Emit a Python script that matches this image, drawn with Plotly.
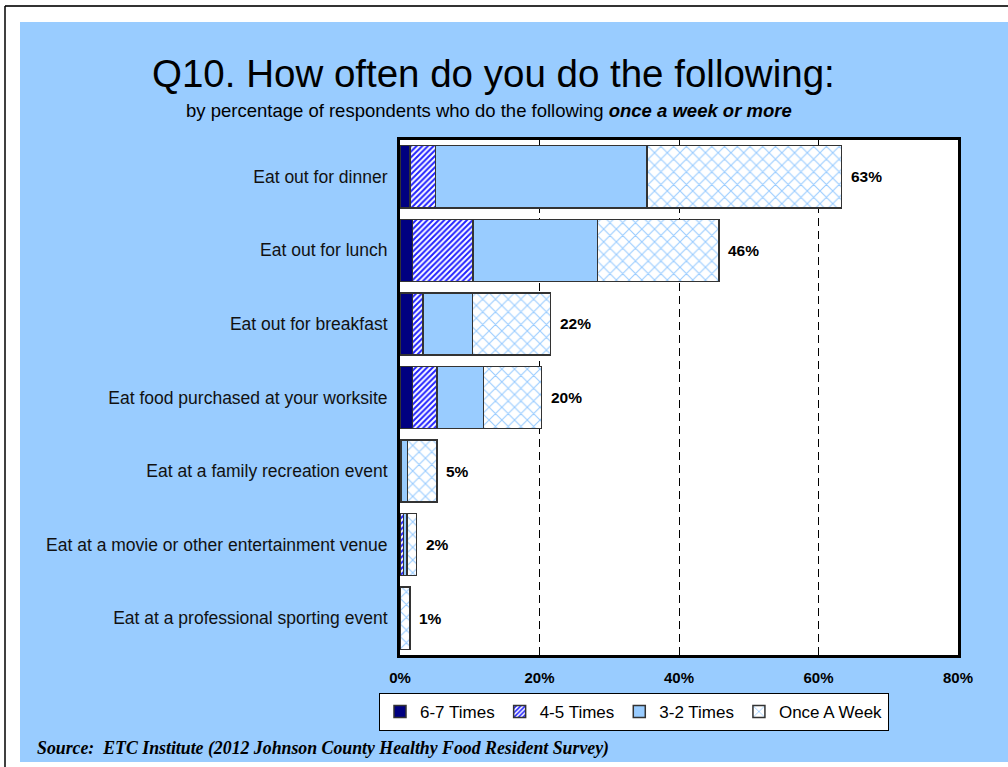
import plotly.graph_objects as go

# Survey items (top to bottom) and the share of respondents per frequency band (%)
categories = [
    "Eat out for dinner",
    "Eat out for lunch",
    "Eat out for breakfast",
    "Eat food purchased at your worksite",
    "Eat at a family recreation event",
    "Eat at a movie or other entertainment venue",
    "Eat at a professional sporting event",
]
times_6_7 = [1.4, 1.8, 1.8, 1.8, 0.1, 0.1, 0.0]
times_4_5 = [3.7, 8.7, 1.5, 3.5, 0.1, 0.4, 0.0]
times_3_2 = [30.3, 17.8, 7.1, 6.7, 0.9, 0.5, 0.1]
once_week = [27.9, 17.4, 11.2, 8.3, 4.2, 1.4, 1.3]

series_names = ["6-7 Times", "4-5 Times", "3-2 Times", "Once A Week"]
x_ticks = [0, 20, 40, 60, 80]
x_tick_labels = ["0%", "20%", "40%", "60%", "80%"]

W, H = 1008, 767
ML, MR, MT, MB = 400, 50, 140, 112
PW, PH = W - ML - MR, H - MT - MB


def px_x(px):
    return (px - ML) / PW


def px_y(py):
    return (H - MB - py) / PH


BLUE = "#99CCFF"
OUTLINE = dict(color="#333333", width=1.5)

fig = go.Figure()
fig.add_trace(go.Bar(
    y=categories, x=times_6_7, name=series_names[0], orientation="h",
    marker=dict(color="#000080", line=OUTLINE),
))
fig.add_trace(go.Bar(
    y=categories, x=times_4_5, name=series_names[1], orientation="h",
    marker=dict(color="white", line=OUTLINE,
                pattern=dict(shape="/", fgcolor="#2222FF", bgcolor="white",
                             size=4, solidity=0.5, fillmode="replace")),
))
fig.add_trace(go.Bar(
    y=categories, x=times_3_2, name=series_names[2], orientation="h",
    marker=dict(color=BLUE, line=OUTLINE),
))
fig.add_trace(go.Bar(
    y=categories, x=once_week, name=series_names[3], orientation="h",
    marker=dict(color="white", line=OUTLINE,
                pattern=dict(shape="x", fgcolor=BLUE, bgcolor="white",
                             size=9, solidity=0.22, fillmode="replace")),
))

# Total labels to the right of each stacked bar
totals = [a + b + c + d for a, b, c, d in zip(times_6_7, times_4_5, times_3_2, once_week)]
for cat, tot in zip(categories, totals):
    fig.add_annotation(
        x=tot, y=cat, xref="x", yref="y", text=f"{round(tot)}%",
        showarrow=False, xanchor="left", xshift=7,
        font=dict(family="Arial", size=15.5, color="black", weight="bold"),
    )

# Titles and source note
fig.add_annotation(
    x=px_x(493), y=px_y(73), xref="paper", yref="paper",
    text="Q10. How often do you do the following:", showarrow=False,
    xanchor="center", yanchor="middle",
    font=dict(family="Arial", size=38.5, color="black"),
)
fig.add_annotation(
    x=px_x(489), y=px_y(111), xref="paper", yref="paper",
    text="by percentage of respondents who do the following <b><i>once a week or more</i></b>",
    showarrow=False, xanchor="center", yanchor="middle",
    font=dict(family="Arial", size=18.5, color="black"),
)
fig.add_annotation(
    x=px_x(35), y=px_y(748), xref="paper", yref="paper",
    text="<b><i>Source:  ETC Institute (2012 Johnson County Healthy Food Resident Survey)</i></b>",
    showarrow=False, xanchor="left", yanchor="middle",
    font=dict(family="Liberation Serif", size=17.8, color="black"),
)

shapes = [
    # light-blue panel
    dict(type="rect", xref="paper", yref="paper", layer="below",
         x0=px_x(20), x1=px_x(W + 2), y0=px_y(762), y1=px_y(22),
         fillcolor=BLUE, line=dict(width=0)),
    # white plotting area
    dict(type="rect", xref="paper", yref="paper", layer="below",
         x0=0, x1=1, y0=0, y1=1, fillcolor="white", line=dict(width=0)),
    # page frame lines
    dict(type="line", xref="paper", yref="paper",
         x0=px_x(5), x1=px_x(W + 2), y0=px_y(6), y1=px_y(6),
         line=dict(color="#333333", width=2)),
    dict(type="line", xref="paper", yref="paper",
         x0=px_x(5), x1=px_x(5), y0=px_y(6), y1=px_y(H + 2),
         line=dict(color="black", width=1.5)),
]

fig.update_layout(
    width=W, height=H,
    margin=dict(l=ML, r=MR, t=MT, b=MB, autoexpand=False),
    paper_bgcolor="white", plot_bgcolor="white",
    barmode="stack", bargap=0.155,
    shapes=shapes,
    showlegend=True,
    legend=dict(
        orientation="h", x=px_x(379), y=px_y(693), xanchor="left", yanchor="top",
        bgcolor="white", bordercolor="black", borderwidth=1,
        font=dict(family="Arial", size=17, color="black"),
        traceorder="normal", itemwidth=30, tracegroupgap=0,
    ),
    xaxis=dict(
        range=[0, 80], tickvals=x_ticks, ticktext=x_tick_labels,
        showgrid=True, gridcolor="black", gridwidth=1, griddash="8px,5px",
        showline=True, mirror=True, linecolor="black", linewidth=3,
        ticks="", ticklabelstandoff=7, zeroline=False,
        tickfont=dict(family="Arial", size=15, color="black", weight="bold"),
    ),
    yaxis=dict(
        autorange="reversed", showgrid=False,
        showline=True, mirror=True, linecolor="black", linewidth=3,
        ticks="", ticklabelstandoff=6,
        tickfont=dict(family="Arial", size=17.5, color="#111111"),
    ),
)

fig.write_html("out.html")
